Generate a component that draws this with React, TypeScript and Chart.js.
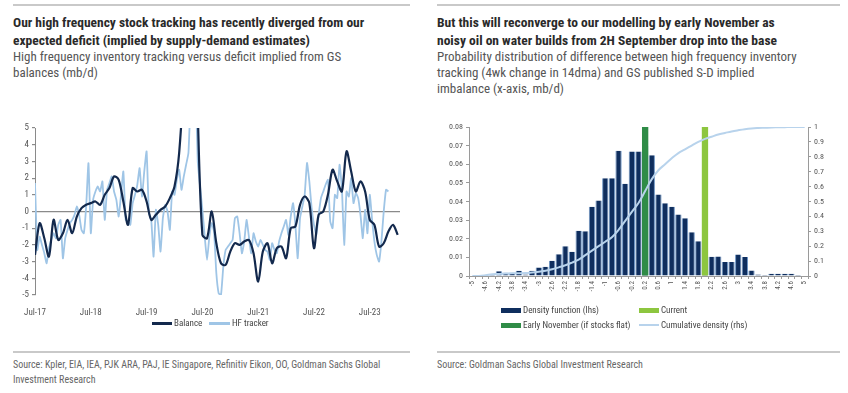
import React, { useEffect, useRef } from 'react';
import { Chart, registerables } from 'chart.js';

Chart.register(...registerables);

const FONT = '"Liberation Sans Narrow", "Roboto Condensed", "Arial Narrow", "Liberation Sans", Arial, sans-serif';

const NAVY = '#13294d';
const LIGHT_BLUE = '#9fc5e6';
const BAR_NAVY = '#0f2e5e';
const BAR_EDGE = '#6f96c4';
const GREEN = '#2f8c47';
const LIGHT_GREEN = '#8dc63f';
const CUM_BLUE = '#b8d3ec';

// ---------- Left chart: monthly balance vs high-frequency tracker (mb/d) ----------
const YEAR_TICK_LABELS = ['Jul-17', 'Jul-18', 'Jul-19', 'Jul-20', 'Jul-21', 'Jul-22', 'Jul-23'];
const YEAR_TICK_MONTHS = [0, 12, 24, 36, 48, 60, 72];

// monthly, starting Jul-17
const BALANCE = [
  -2.6, -0.7, -1.6, -2.7, -0.5, -1.7, -1.3, -0.5, -1.3, -0.3,
  0.2, 0.4, 0.5, 0.6, 0.4, 1.0, 1.4, 2.1, 1.9, 0.6,
  -0.8, 1.4, 1.2, 1.3, 0.6, -0.5, -0.2, 0.1, 0.3, 0.8,
  1.5, 3.5, 8, 15, 18, 6, -1.4, -1.6, 0.0, -1.9,
  -3.1, -3.2, -2.4, -1.9, -2.0, -1.8, -1.7, -2.5, -4.2, -2.4,
  -1.9, -3.1, -2.2, -2.1, -2.8, -1.0, -0.9, 0.4, 0.9, 0.5,
  -2.2, -0.2, 0.0, 1.0, 2.5, 1.8, 1.2, 3.6, 2.4, 1.2,
  1.8, 1.2, -0.5, -0.8, -2.1, -1.9, -1.2, -0.8, -1.4,
];

// semi-monthly, starting Jul-17
const HF_TRACKER = [
  1.7, -2.3, -1.5, -2.0, -2.5, -3.1, -2.2, -1.7, -1.3, -1.6,
  -0.8, -0.5, -2.8, -1.6, -1.1, -0.7, -0.5, -0.2, 0.3, -0.2,
  -1.1, -1.3, 0.3, 2.9, -1.3, 0.7, 1.2, 1.5, 1.2, 1.8,
  -0.5, 1.3, 1.7, 2.1, 1.2, 0.7, -0.3, 1.0, 2.4, -0.5,
  -0.6, -0.8, 0.5, 1.0, 1.6, 2.6, 0.9, 2.4, 3.6, -0.1,
  -0.5, -2.7, 0.1, -0.8, -2.4, -0.4, 0.4, 0.0, -1.1, 1.2,
  1.0, 1.9, 2.5, 1.3, 2.1, 2.8, 3.5, 7, 10, 8,
  3.0, 1.5, 0.1, -1.5, -2.9, -1.5, -0.7, -1.2, -3.7, -4.9,
  -5.0, -3.3, -2.3, -2.1, -1.9, -1.7, -0.4, -0.3, -1.3, -2.5,
  -1.8, -0.5, -1.5, -2.5, -1.3, -1.8, -2.1, -1.7, -2.0, -2.3,
  -2.4, -2.9, -1.9, -2.3, -2.5, -1.8, -1.3, -0.9, -0.5, -1.4,
  -0.3, 0.5, -0.8, -2.8, -0.4, 0.3, 1.0, 2.9, 1.8, 0.2,
  -0.8, -1.4, -0.2, 0.8, 1.2, 1.6, 1.9, -0.6, -1.0, 1.0,
  0.8, 2.8, 1.4, -2.0, 1.2, 0.9, 2.0, 0.5, 1.1, 0.8,
  -0.2, -1.6, 0.1, -1.3, 1.0, -0.5, -1.8, -2.6, -3.0, -1.8,
  0.0, 1.3, 1.2,
];

// ---------- Right chart: probability distribution ----------
const BIN_LABELS = [
  '-5', '-4.8', '-4.6', '-4.4', '-4.2', '-4', '-3.8', '-3.6', '-3.4', '-3.2',
  '-3', '-2.8', '-2.6', '-2.4', '-2.2', '-2', '-1.8', '-1.6', '-1.4', '-1.2',
  '-1', '-0.8', '-0.6', '-0.4', '-0.2', '0', '0.2', '0.4', '0.6', '0.8',
  '1', '1.2', '1.4', '1.6', '1.8', '2', '2.2', '2.4', '2.6', '2.8',
  '3', '3.2', '3.4', '3.6', '3.8', '4', '4.2', '4.4', '4.6', '4.8', '5',
];

const DENSITY = [
  0, 0, 0, 0.0008, 0.0025, 0.0018, 0.0018, 0.0028, 0.0008, 0.0028,
  0.0045, 0.005, 0.0082, 0.0117, 0.016, 0.013, 0.0243, 0.024, 0.0372, 0.0405,
  0.0525, 0.0525, 0.0672, 0.0495, 0.0668, 0.0668, 0.07, 0.0648, 0.0438, 0.039,
  0.0372, 0.033, 0.031, 0.0235, 0.0187, 0.015, 0.0103, 0.0105, 0.0075, 0.0075,
  0.0115, 0.0102, 0.003, 0.0008, 0.0005, 0.0012, 0.0012, 0.0012, 0.0012, 0.0006, 0,
];

const CUMULATIVE = [
  0, 0, 0.005, 0.012, 0.014, 0.016, 0.018, 0.019, 0.02, 0.024,
  0.028, 0.035, 0.045, 0.058, 0.072, 0.09, 0.11, 0.14, 0.17, 0.2,
  0.23, 0.26, 0.31, 0.37, 0.43, 0.49, 0.57, 0.65, 0.71, 0.75,
  0.79, 0.825, 0.85, 0.875, 0.9, 0.92, 0.935, 0.95, 0.96, 0.97,
  0.978, 0.985, 0.99, 0.993, 0.995, 0.997, 0.998, 0.999, 1, 1, 1,
];

const EARLY_NOV_BIN = '0.2';
const CURRENT_BIN = '2';
const MARKER_VALUE = 0.08;

const textBase: React.CSSProperties = {
  position: 'absolute',
  whiteSpace: 'nowrap',
  fontFamily: FONT,
};

const plainNumber = (v: any) => String(Math.round(Number(v) * 1000) / 1000);

function Rule({ left, top, width }: { left: number; top: number; width: number }) {
  return <div style={{ position: 'absolute', left, top, width, height: 2, background: '#c9c9c9' }} />;
}

function Lines({ left, top, lines, size, lh, weight, color }: { left: number; top: number; lines: string[]; size: number; lh: number; weight?: number; color: string }) {
  return (
    <div style={{ ...textBase, left, top, fontSize: size, lineHeight: lh + 'px', fontWeight: weight || 400, color }}>
      {lines.map((l, i) => (
        <div key={i}>{l}</div>
      ))}
    </div>
  );
}

function LegendItem({ left, top, swatch, label, swW, swH }: { left: number; top: number; swatch: string; label: string; swW: number; swH: number }) {
  return (
    <div style={{ ...textBase, left, top, height: 12, display: 'flex', alignItems: 'center', fontSize: 9, color: '#444' }}>
      <div style={{ width: swW, height: swH, background: swatch, marginRight: 2 }} />
      <span>{label}</span>
    </div>
  );
}

export default function App() {
  const leftRef = useRef<HTMLCanvasElement>(null);
  const rightRef = useRef<HTMLCanvasElement>(null);

  useEffect(() => {
    Chart.defaults.font.family = FONT;
    const left = new Chart(leftRef.current!, {
      type: 'line',
      data: {
        datasets: [
          {
            label: 'Balance',
            data: BALANCE.map((v, i) => ({ x: i, y: v })),
            borderColor: NAVY,
            borderWidth: 2.2,
            pointRadius: 0,
            tension: 0.3,
            order: 0,
          },
          {
            label: 'HF tracker',
            data: HF_TRACKER.map((v, i) => ({ x: i / 2, y: v })),
            borderColor: LIGHT_BLUE,
            borderWidth: 1.8,
            pointRadius: 0,
            tension: 0.15,
            order: 1,
          },
        ],
      },
      options: {
        animation: false,
        responsive: false,
        maintainAspectRatio: false,
        layout: { padding: { top: 10, right: 15, left: 0, bottom: 0 } },
        plugins: { legend: { display: false }, tooltip: { enabled: false } },
        scales: {
          x: {
            type: 'linear',
            min: 0,
            max: 78.5,
            afterBuildTicks: (s: any) => {
              s.ticks = YEAR_TICK_MONTHS.map((v) => ({ value: v }));
            },
            ticks: {
              autoSkip: false,
              maxRotation: 0,
              font: { size: 9 },
              color: '#555',
              padding: 4,
              callback: (v: any) => {
                const i = YEAR_TICK_MONTHS.indexOf(Number(v));
                return i >= 0 ? YEAR_TICK_LABELS[i] : '';
              },
            },
            grid: { display: false },
            border: { display: false },
            afterFit: (s: any) => {
              s.height = 23;
            },
          },
          y: {
            min: -5,
            max: 5,
            ticks: { stepSize: 1, font: { size: 9 }, color: '#555', padding: 3 },
            grid: {
              color: (c: any) => (c.tick && c.tick.value === 0 ? '#8a8a8a' : 'rgba(0,0,0,0)'),
              tickColor: '#8a8a8a',
              tickLength: 3,
              lineWidth: 1.2,
            },
            border: { display: true, color: '#8a8a8a' },
            afterFit: (s: any) => {
              s.width = 35;
            },
          },
        },
      },
    });

    const right = new Chart(rightRef.current!, {
      type: 'bar',
      data: {
        labels: BIN_LABELS,
        datasets: [
          {
            type: 'line',
            label: 'Cumulative density (rhs)',
            data: CUMULATIVE,
            yAxisID: 'y1',
            borderColor: CUM_BLUE,
            borderWidth: 2,
            pointRadius: 0,
            tension: 0.4,
            order: 0,
          } as any,
          {
            label: 'Early November (if stocks flat)',
            data: BIN_LABELS.map((l) => (l === EARLY_NOV_BIN ? MARKER_VALUE : null)),
            backgroundColor: GREEN,
            grouped: false,
            barPercentage: 0.95,
            categoryPercentage: 1,
            yAxisID: 'y',
            order: 1,
          },
          {
            label: 'Current',
            data: BIN_LABELS.map((l) => (l === CURRENT_BIN ? MARKER_VALUE : null)),
            backgroundColor: LIGHT_GREEN,
            grouped: false,
            barPercentage: 0.95,
            categoryPercentage: 1,
            yAxisID: 'y',
            order: 1,
          },
          {
            label: 'Density function (lhs)',
            data: DENSITY,
            backgroundColor: BAR_NAVY,
            borderColor: BAR_EDGE,
            borderWidth: { left: 1, right: 1, top: 0, bottom: 0 },
            grouped: false,
            barPercentage: 0.95,
            categoryPercentage: 1,
            yAxisID: 'y',
            order: 2,
          },
        ],
      },
      options: {
        animation: false,
        responsive: false,
        maintainAspectRatio: false,
        layout: { padding: { top: 12, right: 0, left: 0, bottom: 0 } },
        plugins: { legend: { display: false }, tooltip: { enabled: false } },
        scales: {
          x: {
            type: 'category',
            ticks: {
              autoSkip: false,
              minRotation: 90,
              maxRotation: 90,
              font: { size: 7 },
              color: '#555',
              padding: 2,
              callback: (_v: any, i: number) => (i % 2 === 0 ? BIN_LABELS[i] : ''),
            },
            grid: { display: true, drawOnChartArea: false, tickLength: 3, color: '#9a9a9a' },
            border: { display: true, color: '#9a9a9a' },
            afterFit: (s: any) => {
              s.height = 24;
            },
          },
          y: {
            position: 'left',
            min: 0,
            max: 0.08,
            ticks: { stepSize: 0.01, font: { size: 8 }, color: '#555', padding: 3, callback: plainNumber },
            grid: { display: true, drawOnChartArea: false, tickLength: 3, color: '#9a9a9a' },
            border: { display: true, color: '#9a9a9a' },
            afterFit: (s: any) => {
              s.width = 45;
            },
          },
          y1: {
            position: 'right',
            min: 0,
            max: 1,
            ticks: { stepSize: 0.1, font: { size: 8 }, color: '#555', padding: 3, callback: plainNumber },
            grid: { display: true, drawOnChartArea: false, tickLength: 3, color: '#9a9a9a' },
            border: { display: true, color: '#9a9a9a' },
            afterFit: (s: any) => {
              s.width = 40;
            },
          },
        },
      },
    });

    return () => {
      left.destroy();
      right.destroy();
    };
  }, []);

  return (
    <div style={{ position: 'absolute', left: 0, top: 0, width: 848, height: 393, background: '#fff', overflow: 'hidden', fontFamily: FONT }}>
      <Rule left={13} top={4} width={397} />
      <Rule left={437} top={4} width={403} />
      <Lines
        left={13}
        top={13}
        size={13.5}
        lh={18}
        weight={700}
        color="#2a2a2a"
        lines={['Our high frequency stock tracking has recently diverged from our', 'expected deficit (implied by supply-demand estimates)']}
      />
      <Lines
        left={13}
        top={49}
        size={13}
        lh={16}
        color="#555"
        lines={['High frequency inventory tracking versus deficit implied from GS', 'balances (mb/d)']}
      />
      <Lines
        left={437}
        top={13}
        size={13.5}
        lh={18}
        weight={700}
        color="#2a2a2a"
        lines={['But this will reconverge to our modelling by early November as', 'noisy oil on water builds from 2H September drop into the base']}
      />
      <Lines
        left={437}
        top={49}
        size={13}
        lh={16}
        color="#555"
        lines={[
          'Probability distribution of difference between high frequency inventory',
          'tracking (4wk change in 14dma) and GS published S-D implied',
          'imbalance (x-axis, mb/d)',
        ]}
      />

      <canvas ref={leftRef} width={415} height={200} style={{ position: 'absolute', left: 0, top: 118, width: 415, height: 200 }} />
      <canvas ref={rightRef} width={424} height={185} style={{ position: 'absolute', left: 424, top: 115, width: 424, height: 185 }} />

      <LegendItem left={152} top={317} swatch={NAVY} label="Balance" swW={20} swH={3} />
      <LegendItem left={209} top={317} swatch={LIGHT_BLUE} label="HF tracker" swW={21} swH={3} />

      <LegendItem left={501} top={304} swatch={BAR_NAVY} label="Density function (lhs)" swW={20} swH={5} />
      <LegendItem left={639} top={304} swatch={LIGHT_GREEN} label="Current" swW={20} swH={5} />
      <LegendItem left={501} top={319} swatch={GREEN} label="Early November (if stocks flat)" swW={20} swH={5} />
      <LegendItem left={639} top={319} swatch={CUM_BLUE} label="Cumulative density (rhs)" swW={20} swH={2} />

      <Rule left={13} top={351} width={397} />
      <Rule left={437} top={351} width={403} />
      <Lines
        left={13}
        top={357}
        size={10}
        lh={15}
        color="#666"
        lines={['Source: Kpler, EIA, IEA, PJK ARA, PAJ, IE Singapore, Refinitiv Eikon, OO, Goldman Sachs Global', 'Investment Research']}
      />
      <Lines left={437} top={357} size={10} lh={15} color="#666" lines={['Source: Goldman Sachs Global Investment Research']} />
    </div>
  );
}
